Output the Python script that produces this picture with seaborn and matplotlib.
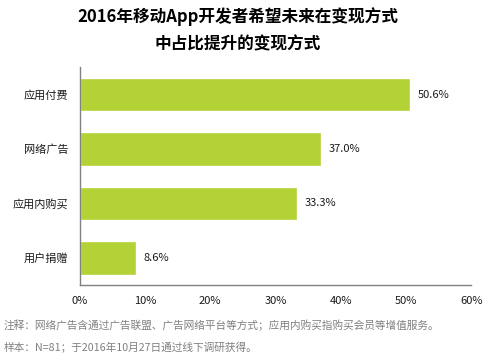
import matplotlib
matplotlib.use("Agg")
import matplotlib.pyplot as plt
import seaborn as sns
import pandas as pd

# Chart data
categories = ["应用付费", "网络广告", "应用内购买", "用户捐赠"]
values = [50.6, 37.0, 33.3, 8.6]
x_ticks = [0, 10, 20, 30, 40, 50, 60]
title = "2016年移动App开发者希望未来在变现方式\n中占比提升的变现方式"
note1 = "注释：网络广告含通过广告联盟、广告网络平台等方式；应用内购买指购买会员等增值服务。"
note2 = "样本：N=81；于2016年10月27日通过线下调研获得。"

sns.set_theme(style="white")
plt.rcParams["font.family"] = ["Noto Sans CJK SC", "DejaVu Sans"]

data = pd.DataFrame({"方式": categories, "占比": values})

fig = plt.figure(figsize=(4.85, 3.6), dpi=100)
ax = fig.add_axes([0.164, 0.208, 0.808, 0.605])

sns.barplot(data=data, x="占比", y="方式", color="#b2d235", saturation=1,
            width=0.62, ax=ax)

for i, v in enumerate(values):
    ax.text(v + 1.2, i, f"{v:.1f}%", va="center", ha="left", fontsize=8, color="#1a1a1a")

ax.set_xlim(0, 60)
ax.set_ylim(3.5, -0.5)
ax.set_xticks(x_ticks)
ax.set_xticklabels([f"{t}%" for t in x_ticks], fontsize=8, color="#1a1a1a")
ax.tick_params(axis="y", labelsize=8, labelcolor="#1a1a1a", length=0, pad=8)
ax.tick_params(axis="x", length=0, pad=8)
ax.set_xlabel("")
ax.set_ylabel("")

for side in ["top", "right"]:
    ax.spines[side].set_visible(False)
for side in ["left", "bottom"]:
    ax.spines[side].set_color("#808080")
    ax.spines[side].set_linewidth(1.0)

fig.text(0.49, 0.98, title, ha="center", va="top", fontsize=12,
         fontweight="bold", color="black", linespacing=1.65)
fig.text(0.008, 0.095, note1, ha="left", va="center", fontsize=7.7, color="#808080")
fig.text(0.008, 0.036, note2, ha="left", va="center", fontsize=7.7, color="#808080")

fig.savefig("out.png", dpi=100)
